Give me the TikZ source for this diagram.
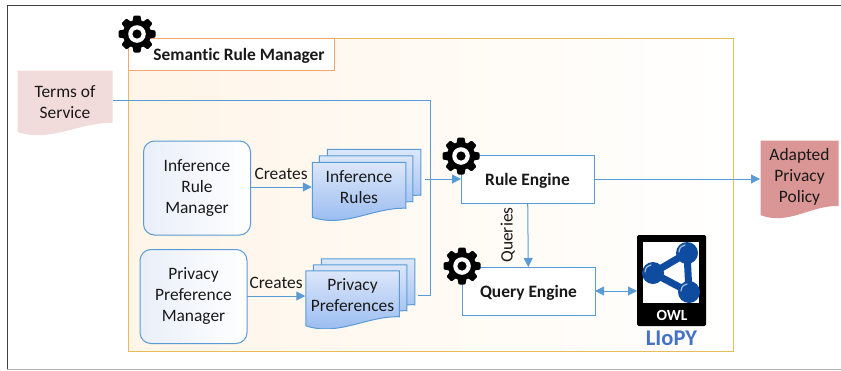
\documentclass[tikz,border=0pt]{standalone}
\usepackage{fontspec}
\setmainfont[Ligatures=NoCommon]{Carlito}
\usetikzlibrary{arrows.meta,calc}
\definecolor{flowblue}{HTML}{5B9BD5}
\definecolor{mgrgold}{HTML}{E9BC5A}
\definecolor{mgrorange}{HTML}{F4A56C}
\definecolor{mgrtint}{HTML}{FFF5E8}
\definecolor{managertint}{HTML}{E9EFF9}
\definecolor{stacktop}{HTML}{DCE7F9}
\definecolor{stackbot}{HTML}{93B7F0}
\definecolor{owlblue}{HTML}{0F4C9F}
\definecolor{liopyblue}{HTML}{4472C4}
\definecolor{tospink}{HTML}{F2DCDB}
\definecolor{policyred}{HTML}{D99694}
\begin{document}
\begin{tikzpicture}[x=1pt,y=-1pt,>={Triangle[length=9pt,width=9pt]},
	every node/.style={font=\fontsize{17.4}{21}\selectfont,text=black!90,inner sep=0pt,outer sep=0pt},
	flow/.style={draw=flowblue,line width=1pt},
	manager/.style={draw=flowblue,rounded corners=11pt,line width=1pt,minimum width=107pt,minimum height=94pt,align=center,
		shading angle=-45,left color=managertint,middle color=white,right color=white},
	engine/.style={draw=flowblue,fill=white,line width=1pt,minimum width=133pt,minimum height=48pt,text depth=0pt,font=\fontsize{17.4}{21}\selectfont\bfseries},
	wavydoc/.style={align=center,path picture={
		\coordinate (pNW) at (path picture bounding box.north west);
		\coordinate (pNE) at (path picture bounding box.north east);
		\coordinate (pSW) at (path picture bounding box.south west);
		\coordinate (pSE) at (path picture bounding box.south east);
		\path[#1] ([shift={(.5,.5)}]pNW) -- ([shift={(-.5,.5)}]pNE) -- ([shift={(-.5,-12)}]pSE)
			.. controls ($(pSW)!.65!(pSE)+(0,-13)$) and ($(pSW)!.35!(pSE)+(0,8)$) .. ([shift={(.5,-3)}]pSW) -- cycle;
	}},
	stackdoc/.style={wavydoc={draw=flowblue,line width=1pt,top color=stacktop,bottom color=stackbot},minimum width=94.5pt,minimum height=58.5pt},
	gear/.pic={
		\fill[black] (0,0) circle (14pt);
		\foreach \ang in {0,45,...,315}
			\fill[black,rotate=\ang,rounded corners=1pt] (-5,-10) -- (-3.4,-18.5) -- (3.4,-18.5) -- (5,-10) -- cycle;
		\fill[white] (0,0) circle (8.8pt);
		\fill[black] (0,0) circle (4.6pt);
	}
	]
% \draw[help lines] (0,0) grid (841,370);
\useasboundingbox (0,0) rectangle (841,370);
\draw[black!75,line width=1pt] (7,370) -- (7,5) -- (841,5);
\draw[black!30,line width=1pt] (7,369) -- (841,369);

\node[draw=mgrgold,line width=1pt,minimum width=605pt,minimum height=313pt,
	shading angle=-45,left color=mgrtint,middle color=white,right color=white] (mgr) at (430.5,194.5) {};
\node[draw=mgrorange,fill=white,line width=1pt,minimum width=206pt,minimum height=32pt,text depth=0pt,font=\fontsize{17.4}{21}\selectfont\bfseries] (title) at (231,54) {\hspace*{16pt}Semantic Rule Manager};

\node[wavydoc={fill=tospink},minimum width=96pt,minimum height=65pt] (tos) at (65,102.5) {Terms of\\Service};
\node[wavydoc={fill=policyred},minimum width=79pt,minimum height=78pt] (policy) at (799.5,179) {Adapted\\Privacy\\Policy\\[-13pt]};

\node[manager] (irm) at (197,188) {Inference\\Rule\\Manager};
\node[manager] (ppm) at (193.5,296.5) {Privacy\\Preference\\Manager};

\node[stackdoc] (rules3) at (374,178) {};
\node[stackdoc] (rules2) at (366,184.5) {};
\node[stackdoc] (rules) at (359,191) {Inference\\Rules\\[-13pt]};
\node[stackdoc] (prefs3) at (368,287.5) {};
\node[stackdoc] (prefs2) at (360,293.5) {};
\node[stackdoc] (prefs) at (352.5,299.5) {Privacy\\Preferences\\[-13pt]};

\node[engine] (rule) at (527.5,179) {Rule Engine};
\node[engine] (query) at (528.5,291) {Query Engine};

\node[fill=black,rounded corners=1.5pt,minimum width=69pt,minimum height=91pt] (owl) at (671.5,280.5) {};
\node[fill=white,minimum width=56pt,minimum height=61pt] (owlpane) at (671,272.5) {};
\node[font=\fontsize{15.5}{17}\selectfont\bfseries,text=white] (owltext) at (672,315) {OWL};
\node[font=\fontsize{22.5}{26}\selectfont\bfseries,text=liopyblue] (liopy) at (671.5,338) {LIoPY};
\coordinate (ball1) at (653,273);
\coordinate (ball2) at (687,253);
\coordinate (ball3) at (689,292);
\draw[owlblue,line width=7pt,line join=round] (ball1) -- (ball2) -- (ball3) -- cycle;
\foreach \ball in {ball1,ball2,ball3}{
	\fill[owlblue] (\ball) circle (11pt);
	\draw[white!65!owlblue,line width=1.2pt,line cap=round] ([shift={(-8,-1)}]\ball) .. controls ([shift={(-7,-6)}]\ball) .. ([shift={(-2,-8)}]\ball);
}

\coordinate (tosout) at (113,100);
\coordinate (junction) at (430,295);
\coordinate (prefsout) at (418,295);
\coordinate (rulesout) at (425,179);

\draw[flow] (tosout) -| (junction) -- (prefsout);
\draw[flow,->] (rulesout) -- (rule);
\draw[flow,->] (rule) -- (policy);
\draw[flow,->] (irm.east |- 0,187) -- node[above=7pt] {Creates} (rules.west |- 0,187);
\draw[flow,->] (ppm.east |- 0,296) -- node[above=7pt] {Creates} (prefs.west |- 0,296);
\draw[flow,->] (rule) -- node[rotate=90,anchor=south,yshift=13pt] {Queries} (query);
\draw[flow,<->] (query) -- (owl.west |- query);

\pic (gearmgr) at (137,34) {gear};
\pic (gearrule) at (461,156) {gear};
\pic (gearquery) at (462,266) {gear};
\end{tikzpicture}
\end{document}
